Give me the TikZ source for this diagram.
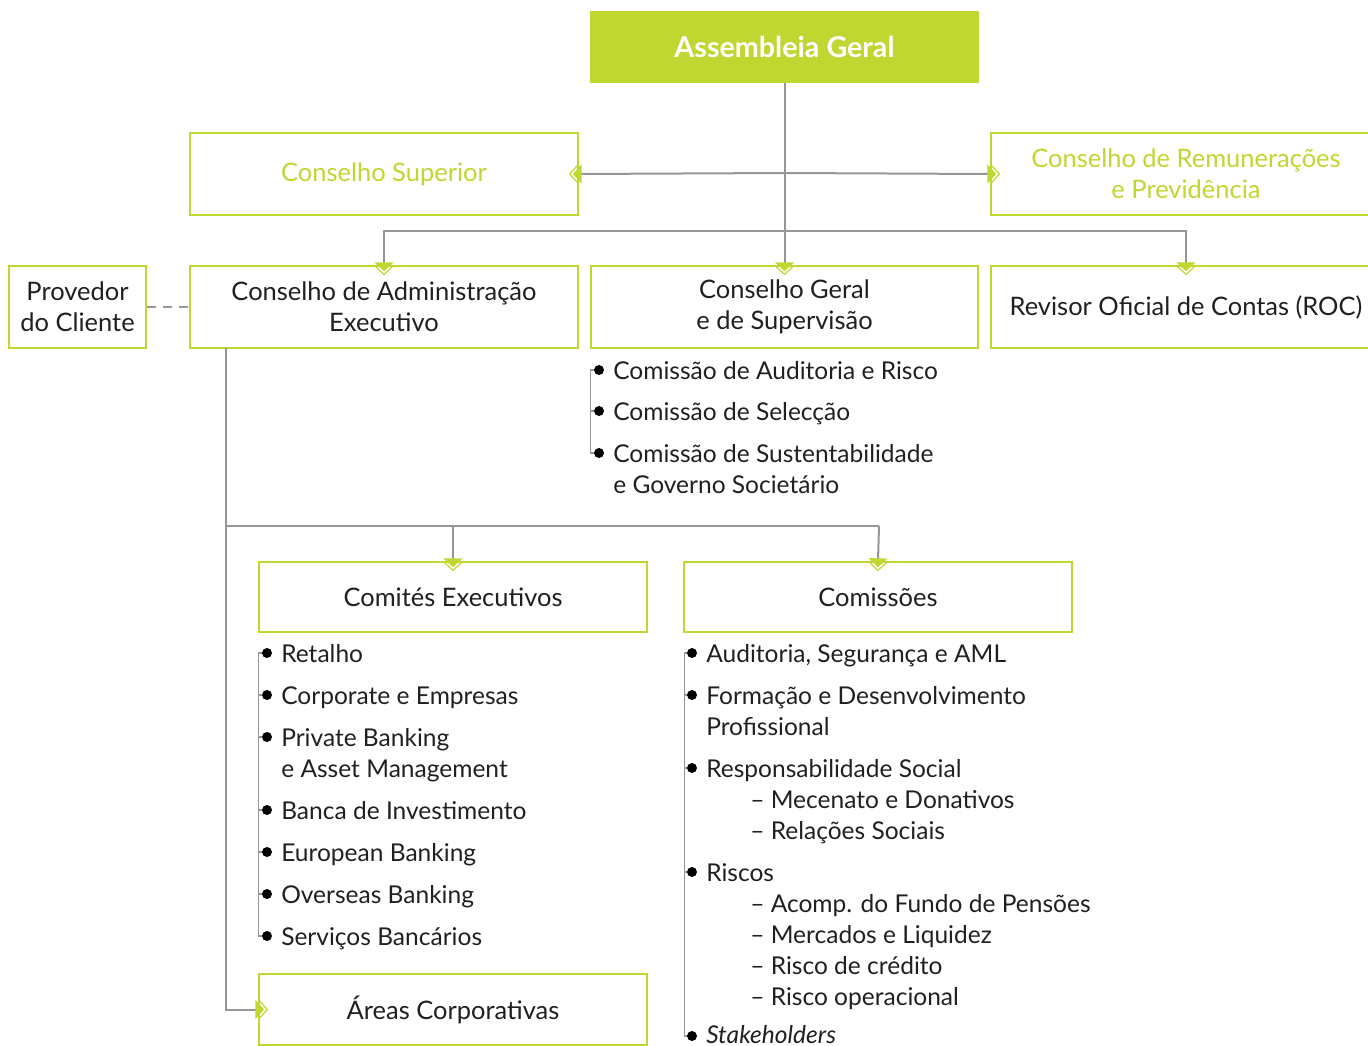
\documentclass[tikz,border=0pt]{standalone}
\usepackage{fontspec}
\setmainfont{Lato}
\definecolor{agreen}{RGB}{191,215,48}
\definecolor{lgray}{RGB}{150,150,150}
\definecolor{txt}{RGB}{35,31,32}
\pgfdeclarearrow{
  name = GTip,
  setup code = {
    \pgfarrowssettipend{0pt}
    \pgfarrowssetlineend{-8.5pt}
    \pgfarrowssetbackend{-9pt}
    \pgfarrowsupperhullpoint{-9pt}{7.5pt}
    \pgfarrowsupperhullpoint{0pt}{0pt}
  },
  drawing code = {
    \pgfsetdash{}{0pt}
    \pgfsetcolor{agreen}
    \pgfpathmoveto{\pgfpoint{-2.4pt}{0pt}}
    \pgfpathlineto{\pgfpoint{-9pt}{7.3pt}}
    \pgfpathlineto{\pgfpoint{-9pt}{-7.3pt}}
    \pgfpathclose
    \pgfusepathqfill
    \pgfsetlinewidth{0.9pt}
    \pgfsetmiterjoin
    \pgfpathmoveto{\pgfpoint{-6pt}{6.6pt}}
    \pgfpathlineto{\pgfpointorigin}
    \pgfpathlineto{\pgfpoint{-6pt}{-6.6pt}}
    \pgfusepathqstroke
  }
}
\begin{document}
\begin{tikzpicture}[x=0.75pt,y=-0.75pt,
  box/.style={draw=agreen, line width=1pt, fill=white, inner sep=0pt, align=center,
    font=\fontsize{19.1}{23.25}\selectfont, text=txt},
  sz/.style 2 args={minimum width=#1*0.75pt, minimum height=#2*0.75pt},
  conn/.style={draw=lgray, line width=1.5pt, -GTip, shorten >=-6.75pt},
  plain/.style={draw=lgray, line width=1.5pt},
  item/.style={anchor=base west, font=\fontsize{18.4}{23.25}\selectfont, text=txt, inner sep=0pt},
  dot/.style={circle, fill=black, inner sep=0pt, minimum size=7.5pt},
  brk/.style={draw=lgray, line width=1pt}]
\useasboundingbox (0,0) rectangle (1368,1046);

% boxes
\node[box, sz={387}{70}, fill=agreen, draw=agreen, text=white, font=\bfseries\fontsize{21.5}{24}\selectfont] (AG) at (784.5,47) {Assembleia Geral};
\node[box, sz={388}{82}, text=agreen] (CS) at (384,174) {Conselho Superior};
\node[box, sz={390}{82}, text=agreen] (CR) at (1186,174) {Conselho de Remunerações\\e Previdência};
\node[box, sz={137}{82}] (PC) at (77.5,307) {Provedor\\do Cliente};
\node[box, sz={388}{82}] (CA) at (384,307) {Conselho de Administração\\Executivo};
\node[box, sz={387}{82}] (CGS) at (784.5,307) {Conselho Geral\\e de Supervisão};
\node[box, sz={390}{82}] (ROC) at (1186,307) {Revisor Oficial de Contas (ROC)};
\node[box, sz={388}{70}] (CE) at (453,597) {Comités Executivos};
\node[box, sz={388}{70}] (CM) at (878,597) {Comissões};
\node[box, sz={388}{71}] (AC) at (453,1009.5) {Áreas Corporativas};

% junctions
\coordinate (j1) at (785,173);
\coordinate (j2) at (785,231);
\coordinate (ca1) at (226,348);
\coordinate (j3) at (226,526);
\coordinate (j4) at (453,526);
\coordinate (j5) at (879,526);

% connectors
\draw[conn] (AG.south) -- (CGS.north);
\draw[conn] (j1) -- (CS.east);
\draw[conn] (j1) -- (CR.west);
\draw[conn] (j2) -| (CA.north);
\draw[conn] (j2) -| (ROC.north);
\draw[draw=lgray, line width=1.5pt, dash pattern=on 7pt off 5pt] (PC.east) -- (CA.west);
\draw[conn] (ca1) |- (AC.west);
\draw[plain] (j3) -- (j5);
\draw[conn] (j4) -- (CE.north);
\draw[conn] (j5) -- (CM.north);

% CGS list
\node[dot] (g1) at (599,370) {};
\node[dot] (g2) at (599,411) {};
\node[dot] (g3) at (599,453) {};
\draw[brk] (g1.west) -- ++(-3,0) |- (g3.west);
\draw[brk] (g2.west) -- ++(-3,0);
\node[item] (gt1) at (613,379) {Comissão de Auditoria e Risco};
\node[item] (gt2) at (613,420) {Comissão de Selecção};
\node[item] (gt3) at (613,462) {Comissão de Sustentabilidade};
\node[item] (gt3b) at (613,493) {e Governo Societário};

% Comites list
\node[dot] (c1) at (267,653) {};
\node[dot] (c2) at (267,695) {};
\node[dot] (c3) at (267,737) {};
\node[dot] (c4) at (267,810) {};
\node[dot] (c5) at (267,852) {};
\node[dot] (c6) at (267,894) {};
\node[dot] (c7) at (267,936) {};
\draw[brk] (c1.west) -- ++(-3,0) |- (c7.west);
\foreach \n in {c2,c3,c4,c5,c6} \draw[brk] (\n.west) -- ++(-3,0);
\node[item] (ct1) at (281,662) {Retalho};
\node[item] (ct2) at (281,704) {Corporate e Empresas};
\node[item] (ct3) at (281,746) {Private Banking};
\node[item] (ct3b) at (281,777) {e Asset Management};
\node[item] (ct4) at (281,819) {Banca de Investimento};
\node[item] (ct5) at (281,861) {European Banking};
\node[item] (ct6) at (281,903) {Overseas Banking};
\node[item] (ct7) at (281,945) {Serviços Bancários};

% Comissoes list
\node[dot] (m1) at (692,653) {};
\node[dot] (m2) at (692,695) {};
\node[dot] (m3) at (692,768) {};
\node[dot] (m4) at (692,872) {};
\node[dot] (m5) at (692,1036) {};
\draw[brk] (m1.west) -- ++(-2,0) |- (m5.west);
\foreach \n in {m2,m3,m4} \draw[brk] (\n.west) -- ++(-2,0);
\node[item] (mt1) at (706,662) {Auditoria, Segurança e AML};
\node[item] (mt2) at (706,704) {Formação e Desenvolvimento};
\node[item] (mt2b) at (706,735) {Profissional};
\node[item] (mt3) at (706,777) {Responsabilidade Social};
\node[item] (mt3a) at (750,808) {– Mecenato e Donativos};
\node[item] (mt3b) at (750,839) {– Relações Sociais};
\node[item] (mt4) at (706,881) {Riscos};
\node[item] (mt4a) at (750,912) {– Acomp. do Fundo de Pensões};
\node[item] (mt4b) at (750,943) {– Mercados e Liquidez};
\node[item] (mt4c) at (750,974) {– Risco de crédito};
\node[item] (mt4d) at (750,1005) {– Risco operacional};
\node[item] (mt5) at (706,1043) {\itshape Stakeholders};
\end{tikzpicture}
\end{document}
